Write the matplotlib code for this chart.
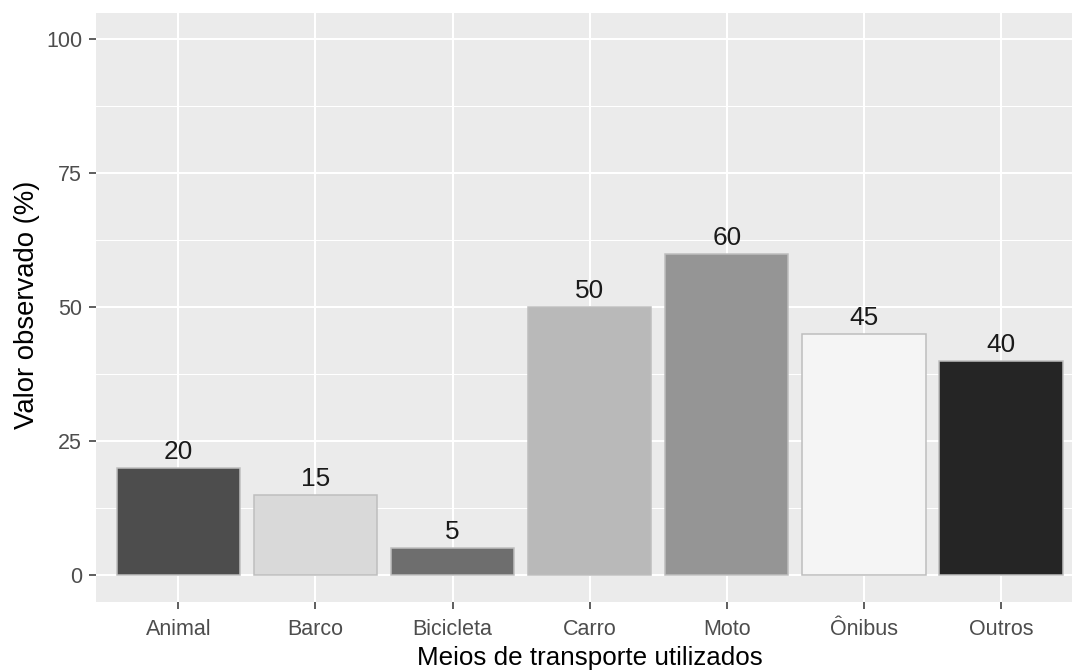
import matplotlib
matplotlib.use("Agg")
import matplotlib.pyplot as plt
from matplotlib.ticker import MultipleLocator

plt.rcParams['font.family'] = ['Liberation Sans', 'DejaVu Sans']

categories = ["Animal", "Barco", "Bicicleta", "Carro", "Moto", "Ônibus", "Outros"]
values = [20, 15, 5, 50, 60, 45, 40]
bar_colors = ["#4d4d4d", "#d9d9d9", "#6e6e6e", "#b9b9b9", "#959595", "#f5f5f5", "#252525"]
y_ticks = [0, 25, 50, 75, 100]

W, H = 1072, 671
fig = plt.figure(figsize=(W / 100, H / 100), dpi=100)
left_px, right_px, top_px, bottom_px = 96.0, 1083.3, 12.5, 601.8
ax = fig.add_axes([left_px / W, 1 - bottom_px / H, (right_px - left_px) / W, (bottom_px - top_px) / H])

ax.set_facecolor("#ebebeb")
for s in ax.spines.values():
    s.set_visible(False)
ax.set_axisbelow(True)

x = list(range(1, len(categories) + 1))
ax.bar(x, values, width=0.9, color=bar_colors, edgecolor="#bebebe", linewidth=1.1, zorder=2)

for xi, v in zip(x, values):
    ax.annotate(str(v), (xi, v), xytext=(0, 6.5), textcoords="offset points",
                ha="center", va="baseline", fontsize=18.9, color="#1a1a1a", zorder=3)

ax.set_xlim(0.4, len(categories) + 0.6)
ax.set_ylim(-5, 105)
ax.set_xticks(x)
ax.set_xticklabels(categories)
ax.set_yticks(y_ticks)
ax.yaxis.set_minor_locator(MultipleLocator(12.5))

ax.grid(which="major", color="white", linewidth=1.45)
ax.grid(which="minor", axis="y", color="white", linewidth=0.72)
ax.tick_params(which="major", length=5, width=1.1, color="#333333", labelsize=15.5,
               labelcolor="#4d4d4d")
ax.tick_params(axis="x", pad=7.5)
ax.tick_params(axis="y", pad=5)
ax.tick_params(which="minor", length=0)

ax.set_xlabel("Meios de transporte utilizados", fontsize=18.7, color="black", va="baseline")
ax.xaxis.set_label_coords(0.5, (bottom_px - 665) / (bottom_px - top_px))
ax.set_ylabel("Valor observado (%)", fontsize=19.8, color="black", va="center")
ax.yaxis.set_label_coords((27 - left_px) / (right_px - left_px), (bottom_px - 305) / (bottom_px - top_px))

fig.savefig("out.png", dpi=100)
